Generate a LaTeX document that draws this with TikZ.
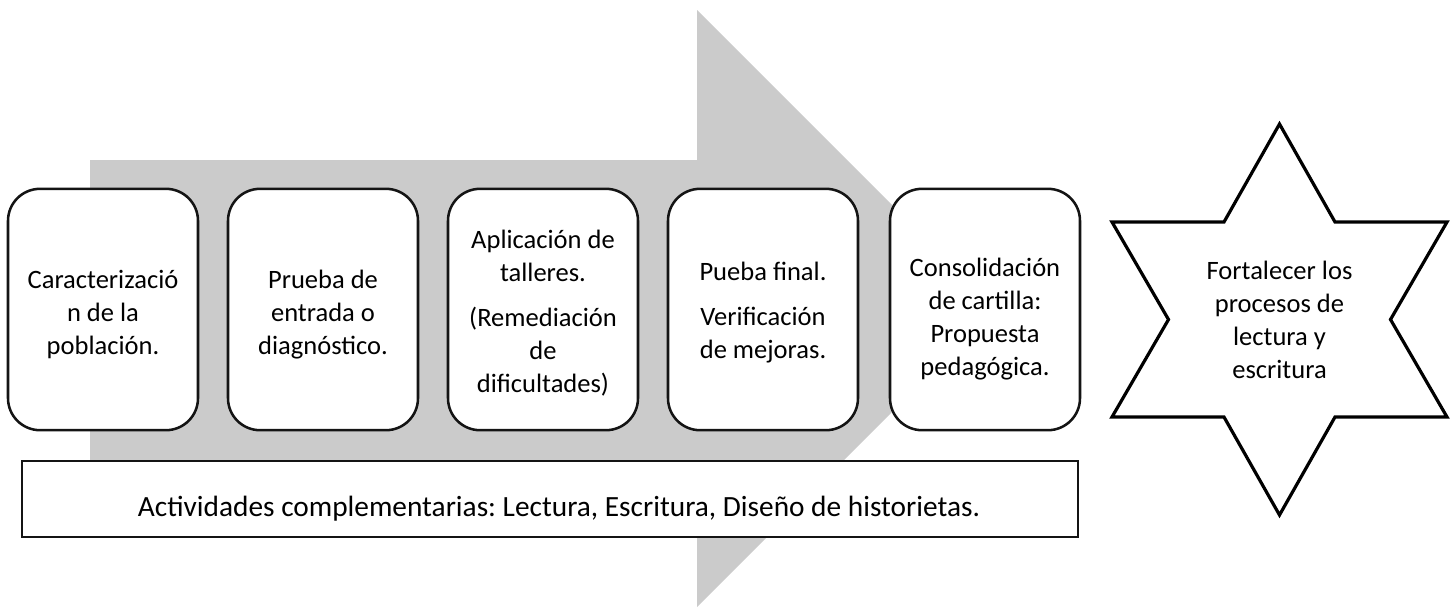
\documentclass[tikz,border=0pt]{standalone}
\usepackage{fontspec}
\setmainfont{Carlito}
\frenchspacing
\definecolor{arrowgray}{RGB}{203,203,203}
\definecolor{boxline}{RGB}{20,20,20}
\begin{document}
\begin{tikzpicture}[x=0.75pt,y=-0.75pt,
  txt/.style={font=\fontsize{19.9pt}{24.75pt}\selectfont, align=center, text=black, inner sep=0pt},
  stepbox/.style={draw=boxline, line width=1.9pt, rounded corners=24pt, fill=white,
    minimum width=142.5pt, minimum height=181pt, inner sep=0pt},
  actbox/.style={draw=boxline, line width=1.1pt, fill=white, minimum width=792pt, minimum height=57pt, inner sep=0pt},
  starline/.style={draw=black, line width=2.4pt, fill=white, line join=miter}]
\useasboundingbox (0,0) rectangle (1454,608);
% big background arrow
\fill[arrowgray] (90,160) -- (697,160) -- (697,10) -- (995.5,308.5) -- (697,607) -- (697,460) -- (90,460) -- cycle;
% steps
\node[stepbox] (s1) at (103,309.5) {};
\node[stepbox] (s2) at (323,309.5) {};
\node[stepbox] (s3) at (543,309.5) {};
\node[stepbox] (s4) at (763,309.5) {};
\node[stepbox] (s5) at (985,309.5) {};
\node[txt] (t1) at ([yshift=-4pt]s1.center) {Caracterizació\\n de la\\población.};
\node[txt] (t2) at ([yshift=-4pt]s2.center) {Prueba de\\entrada o\\diagnóstico.};
\node[txt] (t3) at ([yshift=-2.5pt]s3.center) {Aplicación de\\talleres.\\[9pt](Remediación\\de\\dificultades)};
\node[txt] (t4) at ([yshift=-2.5pt]s4.center) {Pueba final.\\[9pt]Verificación\\de mejoras.};
\node[txt] (t5) at ([yshift=-7pt]s5.center) {Consolidación\\de cartilla:\\Propuesta\\pedagógica.};
% complementary activities
\node[actbox] (act) at (550,499) {};
\node[txt, anchor=base, font=\fontsize{22pt}{27pt}\selectfont] (acttxt) at (559,516) {Actividades complementarias: Lectura, Escritura, Diseño de historietas.};
% star
\path[starline] (1279.5,124) -- (1335,222) -- (1447,222) -- (1390.5,319.5) -- (1447,417) -- (1335,417)
  -- (1279.5,515) -- (1224,417) -- (1112,417) -- (1168.5,319.5) -- (1112,222) -- (1224,222) -- cycle;
\node[txt] (goal) at (1279.5,319.5) {Fortalecer los\\procesos de\\lectura y\\escritura};
\end{tikzpicture}
\end{document}
